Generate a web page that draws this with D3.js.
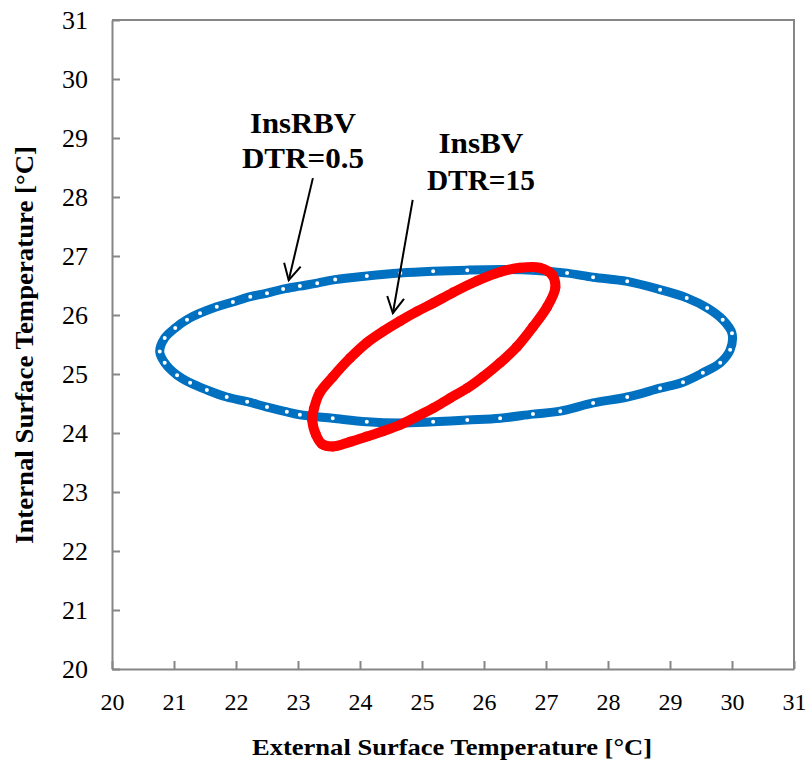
<!DOCTYPE html>
<html>
<head>
<meta charset="utf-8">
<script src="https://cdn.jsdelivr.net/npm/d3@7"></script>
<style>
  body { margin: 0; background: #fff; }
  text { font-family: "Liberation Serif", "Times New Roman", serif; }
</style>
</head>
<body>
<div id="chart"></div>
<script>
// InsRBV, DTR=0.5 (blue loop)
var insRBV_x = [20.77, 20.85, 21.02, 21.21, 21.42, 21.69, 21.95, 22.23, 22.50, 22.76,
                23.03, 23.31, 23.60, 24.11, 24.65, 25.18, 25.73, 26.26, 26.79, 27.34,
                27.76, 28.31, 28.84, 29.27, 29.60, 29.85, 30.00, 29.97, 29.81, 29.53,
                29.21, 28.84, 28.31, 27.76, 27.23, 26.79, 26.26, 25.73, 25.18, 24.65,
                24.11, 23.56, 23.03, 22.82, 22.50, 22.18, 21.85, 21.53, 21.26, 21.05, 20.85];
var insRBV_y = [25.38, 25.61, 25.78, 25.92, 26.03, 26.14, 26.22, 26.31, 26.37, 26.44,
                26.49, 26.54, 26.60, 26.66, 26.71, 26.74, 26.76, 26.77, 26.76, 26.71,
                26.64, 26.57, 26.43, 26.29, 26.12, 25.92, 25.69, 25.41, 25.19, 25.02,
                24.86, 24.76, 24.61, 24.51, 24.37, 24.32, 24.25, 24.22, 24.19, 24.17,
                24.19, 24.25, 24.31, 24.36, 24.44, 24.53, 24.61, 24.73, 24.85, 24.98, 25.19];

// InsBV, DTR=15 (red loop)
var insBV_x = [23.23, 23.26, 23.35, 23.56, 23.84, 24.11, 24.37, 24.65, 24.92, 25.18,
               25.50, 25.89, 26.26, 26.58, 26.90, 27.10, 27.15, 27.02, 26.79, 26.53,
               26.26, 25.98, 25.73, 25.45, 25.18, 24.92, 24.65, 24.37, 24.11, 23.84,
               23.56, 23.39, 23.29];
var insBV_y = [24.22, 24.42, 24.68, 24.95, 25.27, 25.53, 25.72, 25.90, 26.06, 26.20,
               26.38, 26.58, 26.73, 26.80, 26.80, 26.68, 26.46, 26.14, 25.80, 25.46,
               25.19, 24.95, 24.76, 24.59, 24.42, 24.28, 24.14, 24.03, 23.94, 23.85,
               23.77, 23.81, 23.97];

var xTicks = [20, 21, 22, 23, 24, 25, 26, 27, 28, 29, 30, 31];
var yTicks = [20, 21, 22, 23, 24, 25, 26, 27, 28, 29, 30, 31];

var width = 807,
    height = 761;
var serif = '"Liberation Serif", "Times New Roman", serif';

var svg = d3.select("#chart")
    .append("svg")
    .attr("width", width)
    .attr("height", height)
    .attr("font-family", serif);

var x = d3.scaleLinear().domain([20, 31]).range([112, 794]);
var y = d3.scaleLinear().domain([20, 31]).range([669, 20]);

var gray = "#868686";

// frame (top and right)
svg.append("path")
    .attr("d", "M" + x(20) + "," + y(31) + "H" + x(31) + "V" + y(20))
    .attr("fill", "none")
    .attr("stroke", gray)
    .attr("stroke-width", 2);

var xAxis = svg.append("g")
    .attr("transform", "translate(0," + y(20) + ")")
    .call(d3.axisBottom(x).tickValues(xTicks).tickSizeInner(-8).tickSizeOuter(0).tickPadding(24));

var yAxis = svg.append("g")
    .attr("transform", "translate(" + x(20) + ",0)")
    .call(d3.axisLeft(y).tickValues(yTicks).tickSizeInner(-8).tickSizeOuter(0).tickPadding(24));

[xAxis, yAxis].forEach(function(a){
    a.attr("font-family", serif);
    a.select(".domain").attr("stroke", gray).attr("stroke-width", 2);
    a.selectAll(".tick line").attr("stroke", gray).attr("stroke-width", 2);
    a.selectAll(".tick text").attr("fill", "#000");
});
xAxis.attr("font-size", 24);
yAxis.attr("font-size", 26);

// axis titles
svg.append("text")
    .attr("x", 452)
    .attr("y", 755)
    .attr("text-anchor", "middle")
    .attr("font-weight", "bold")
    .attr("font-size", 24)
    .attr("textLength", 400)
    .attr("lengthAdjust", "spacingAndGlyphs")
    .text("External Surface Temperature [°C]");

svg.append("text")
    .attr("transform", "translate(33,345) rotate(-90)")
    .attr("text-anchor", "middle")
    .attr("font-weight", "bold")
    .attr("font-size", 26)
    .attr("textLength", 398)
    .attr("lengthAdjust", "spacingAndGlyphs")
    .text("Internal Surface Temperature [°C]");

// loops
var lineGen = d3.line()
    .x(function(d){ return x(d[0]); })
    .y(function(d){ return y(d[1]); })
    .curve(d3.curveCatmullRomClosed.alpha(0.5));

var blue = d3.zip(insRBV_x, insRBV_y);
var red = d3.zip(insBV_x, insBV_y);

svg.append("path")
    .datum(blue)
    .attr("d", lineGen)
    .attr("fill", "none")
    .attr("stroke", "#0070C0")
    .attr("stroke-width", 9);

svg.selectAll(".rbv")
    .data(blue)
    .enter().append("circle")
    .attr("class", "rbv")
    .attr("cx", function(d){ return x(d[0]); })
    .attr("cy", function(d){ return y(d[1]); })
    .attr("r", 3)
    .attr("fill", "#fff")
    .attr("stroke", "#0070C0")
    .attr("stroke-width", 2);

svg.append("path")
    .datum(red)
    .attr("d", lineGen)
    .attr("fill", "none")
    .attr("stroke", "#FF0000")
    .attr("stroke-width", 10);

svg.selectAll(".bv")
    .data(red)
    .enter().append("circle")
    .attr("class", "bv")
    .attr("cx", function(d){ return x(d[0]); })
    .attr("cy", function(d){ return y(d[1]); })
    .attr("r", 5)
    .attr("fill", "#FF0000");

// annotations
var notes = [
    {lines: ["InsRBV", "DTR=0.5"], lens: [106, 122], cx: 23.08, base: [29.08, 28.49],
     from: [23.24, 28.32], to: [22.85, 26.59]},
    {lines: ["InsBV", "DTR=15"], lens: [85, 108], cx: 25.95, base: [28.75, 28.12],
     from: [24.85, 27.95], to: [24.53, 26.03]}
];

var defs = svg.append("defs");
defs.append("marker")
    .attr("id", "head")
    .attr("markerUnits", "userSpaceOnUse")
    .attr("markerWidth", 24)
    .attr("markerHeight", 24)
    .attr("viewBox", "-20 -12 24 24")
    .attr("refX", 0)
    .attr("refY", 0)
    .attr("orient", "auto")
    .append("path")
    .attr("d", "M-16,-8.5L0,0L-16,8.5")
    .attr("fill", "none")
    .attr("stroke", "#000")
    .attr("stroke-width", 2);

notes.forEach(function(n){
    n.lines.forEach(function(t, i){
        svg.append("text")
            .attr("x", x(n.cx))
            .attr("y", y(n.base[i]))
            .attr("text-anchor", "middle")
            .attr("font-weight", "bold")
            .attr("font-size", 29)
            .attr("textLength", n.lens[i])
            .attr("lengthAdjust", "spacingAndGlyphs")
            .text(t);
    });
    svg.append("line")
        .attr("x1", x(n.from[0]))
        .attr("y1", y(n.from[1]))
        .attr("x2", x(n.to[0]))
        .attr("y2", y(n.to[1]))
        .attr("stroke", "#000")
        .attr("stroke-width", 2)
        .attr("marker-end", "url(#head)");
});
</script>
</body>
</html>
